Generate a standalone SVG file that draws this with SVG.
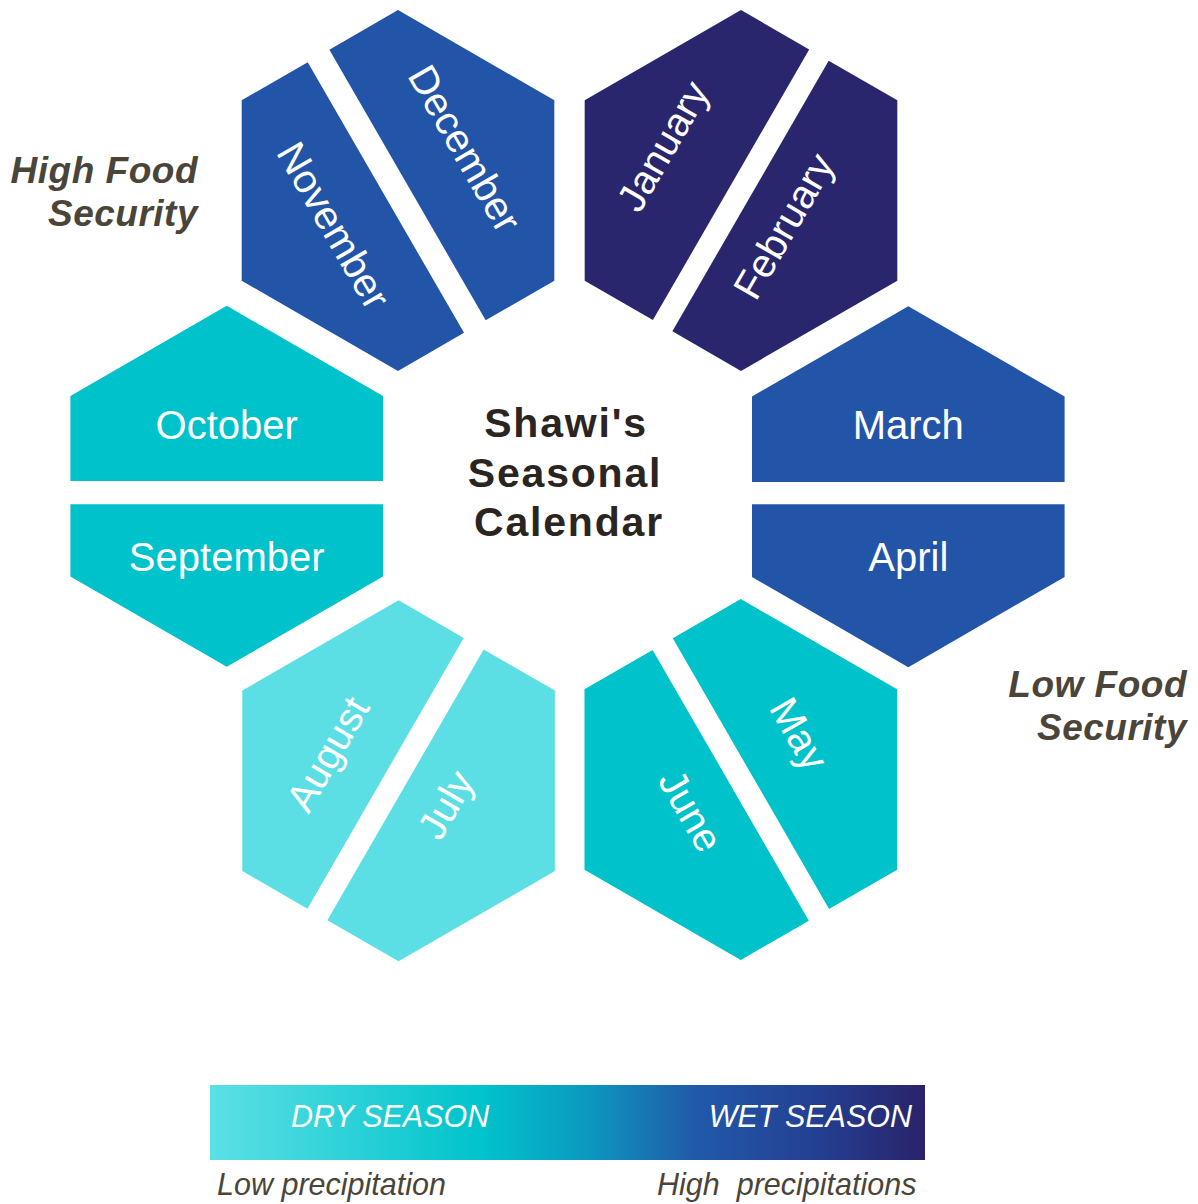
<svg xmlns="http://www.w3.org/2000/svg" width="1198" height="1204" viewBox="0 0 1198 1204">
<defs>
<style>
.m{font-family:"Liberation Sans",Arial,sans-serif;font-size:40px;fill:#ffffff;text-anchor:middle}
.blue{fill:#2254a7}
.navy{fill:#29266e}
.teal{fill:#00c2cb}
.cyan{fill:#5cdfe4}
.title{font-family:"Liberation Sans",Arial,sans-serif;font-size:41px;font-weight:bold;fill:#2a2520;text-anchor:middle;letter-spacing:1.8px}
.side{font-family:"Liberation Sans",Arial,sans-serif;font-size:37px;font-weight:bold;font-style:italic;fill:#4b4539;text-anchor:end;letter-spacing:0.5px}
.season{font-family:"Liberation Sans",Arial,sans-serif;font-size:30.5px;font-style:italic;fill:#ffffff}
.prec{font-family:"Liberation Sans",Arial,sans-serif;font-size:30.5px;font-style:italic;fill:#4b4539}
</style>
<linearGradient id="grad" x1="0" y1="0" x2="1" y2="0">
<stop offset="0" stop-color="#5be0e5"/>
<stop offset="0.38" stop-color="#00c3cb"/>
<stop offset="0.52" stop-color="#0b9cc0"/>
<stop offset="0.68" stop-color="#2159a9"/>
<stop offset="0.85" stop-color="#243f92"/>
<stop offset="1" stop-color="#2a2369"/>
</linearGradient>
</defs>
<rect width="1198" height="1204" fill="#ffffff"/>

<g id="hex-nov-dec" transform="translate(398,190.5) rotate(60)">
<g id="december">
<polygon class="blue" points="-156.3,-11 -156.3,-90.25 0,-180.5 156.3,-90.25 156.3,-11"/>
<text class="m" x="-3" y="-65">December</text>
</g>
<g id="november">
<polygon class="blue" points="-156.3,14 156.3,14 156.3,90.25 0,180.5 -156.3,90.25"/>
<text class="m" x="-2" y="87">November</text>
</g>
</g>

<g id="hex-jan-feb" transform="translate(741,190.5) rotate(-60)">
<g id="january">
<polygon class="navy" points="-156.3,-11.5 -156.3,-90.25 0,-180.5 156.3,-90.25 156.3,-11.5"/>
<text class="m" x="-0.5" y="-76">January</text>
</g>
<g id="february">
<polygon class="navy" points="-156.3,11 156.3,11 156.3,90.25 0,180.5 -156.3,90.25"/>
<text class="m" x="-9.5" y="68.6">February</text>
</g>
</g>

<g id="hex-mar-apr" transform="translate(908.3,486.7)">
<g id="march">
<polygon class="blue" points="-156.3,-4.7 -156.3,-90.25 0,-180.5 156.3,-90.25 156.3,-4.7"/>
<text class="m" x="0" y="-47.7">March</text>
</g>
<g id="april">
<polygon class="blue" points="-156.3,17.6 156.3,17.6 156.3,90.25 0,180.5 -156.3,90.25"/>
<text class="m" x="0" y="84.3">April</text>
</g>
</g>

<g id="hex-may-jun" transform="translate(740.8,779.5) rotate(60)">
<g id="may">
<polygon class="teal" points="-156.3,-11.7 -156.3,-90.25 0,-180.5 156.3,-90.25 156.3,-11.7"/>
<text class="m" x="-10.3" y="-59.5">May</text>
</g>
<g id="june">
<polygon class="teal" points="-156.3,11.6 156.3,11.6 156.3,90.25 0,180.5 -156.3,90.25"/>
<text class="m" x="2.1" y="73">June</text>
</g>
</g>

<g id="hex-jul-aug" transform="translate(398.6,780.8) rotate(-60)">
<g id="august">
<polygon class="cyan" points="-156.3,-15 -156.3,-90.25 0,-180.5 156.3,-90.25 156.3,-15"/>
<text class="m" x="-12.3" y="-61">August</text>
</g>
<g id="july">
<polygon class="cyan" points="-156.3,8 156.3,8 156.3,90.25 0,180.5 -156.3,90.25"/>
<text class="m" x="2.8" y="66.6">July</text>
</g>
</g>

<g id="hex-sep-oct" transform="translate(226.7,486.3)">
<g id="october">
<polygon class="teal" points="-156.3,-5.3 -156.3,-90.25 0,-180.5 156.3,-90.25 156.3,-5.3"/>
<text class="m" x="0" y="-47.3">October</text>
</g>
<g id="september">
<polygon class="teal" points="-156.3,18 156.3,18 156.3,90.25 0,180.5 -156.3,90.25"/>
<text class="m" x="0" y="84.7">September</text>
</g>
</g>

<g id="title">
<text class="title" x="566" y="437">Shawi's</text>
<text class="title" x="565" y="487">Seasonal</text>
<text class="title" x="569" y="536">Calendar</text>
</g>

<g id="high-food-security">
<text class="side" x="198" y="183">High Food</text>
<text class="side" x="198" y="226">Security</text>
</g>
<g id="low-food-security">
<text class="side" x="1187" y="697">Low Food</text>
<text class="side" x="1187" y="740">Security</text>
</g>

<g id="legend">
<rect x="210" y="1085" width="715" height="75" fill="url(#grad)"/>
<text class="season" x="291" y="1127">DRY SEASON</text>
<text class="season" x="912" y="1127" text-anchor="end">WET SEASON</text>
<text class="prec" x="217" y="1195">Low precipitation</text>
<text class="prec" x="657" y="1195" xml:space="preserve">High  precipitations</text>
</g>
<g id="connectors"/>
</svg>
